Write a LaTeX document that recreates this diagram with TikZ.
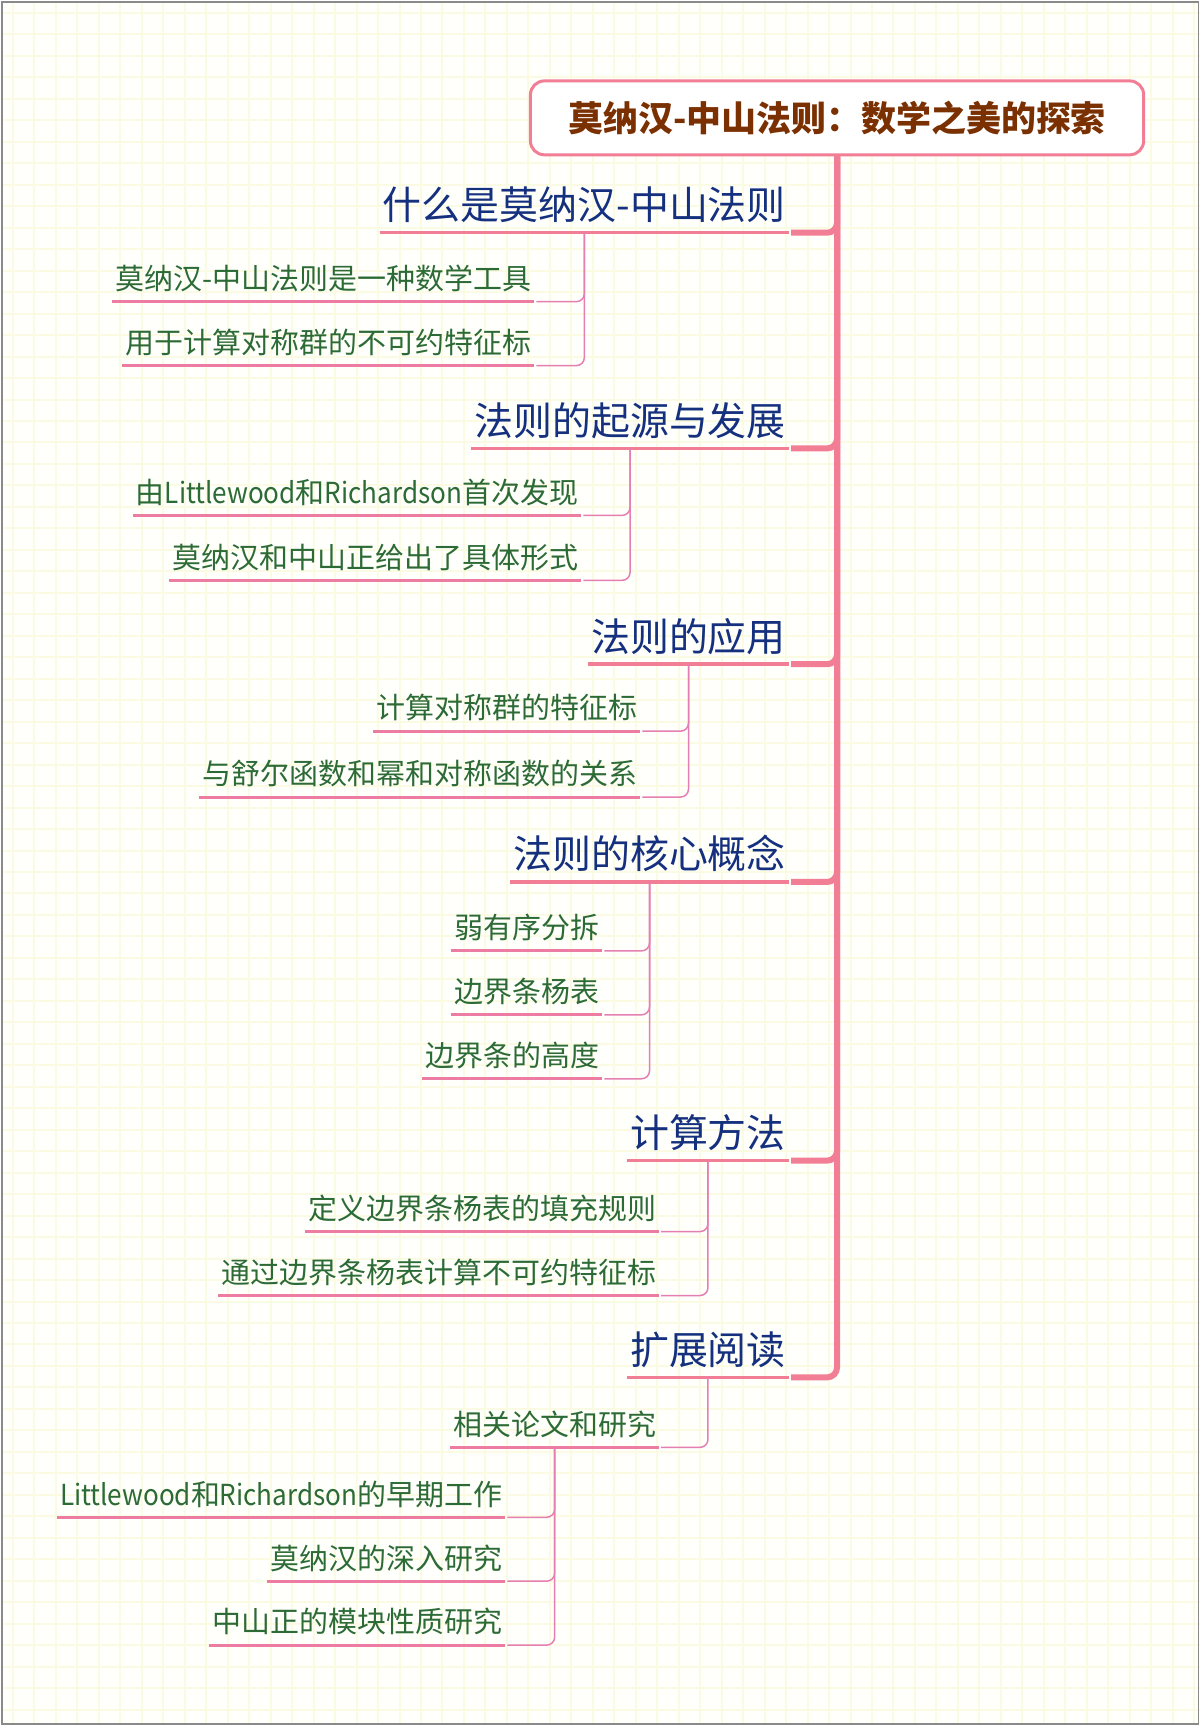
\documentclass[tikz,border=0pt]{standalone}
\usepackage{fontspec}
\setmainfont{Noto Sans CJK SC}
\newfontfamily\latinfont{Noto Sans CJK SC}[FakeStretch=0.9]
\newcommand{\latw}[1]{{\latinfont #1}}
\usetikzlibrary{calc}

\definecolor{paper}{HTML}{FFFFFC}
\definecolor{gridyellow}{HTML}{FBFBE3}
\definecolor{framegray}{HTML}{8A8A8A}
\definecolor{boughpink}{HTML}{F27E96}
\definecolor{linepink}{HTML}{EC7CA2}
\definecolor{twigpink}{HTML}{E57FB2}
\definecolor{titlebrown}{HTML}{7A3000}
\definecolor{branchblue}{HTML}{15307E}
\definecolor{leafgreen}{HTML}{2D6B36}

\begin{document}
\begin{tikzpicture}[
  x=1pt, y=-1pt,
  topic/.style={draw=boughpink, line width=3pt, rounded corners=14pt, fill=white,
    minimum width=614pt, minimum height=74pt, text=titlebrown,
    font=\fontsize{35}{38}\selectfont\bfseries},
  branch/.style={anchor=south east, inner xsep=3pt, inner ysep=0pt, text depth=13pt,
    text=branchblue, font=\fontsize{39}{42}\selectfont},
  leaf/.style={anchor=south east, inner xsep=3pt, inner ysep=0pt, text depth=12pt,
    text=leafgreen, font=\fontsize{29}{32}\selectfont},
  bough/.style={draw=boughpink, line width=6pt, rounded corners=10pt},
  bline/.style={draw=boughpink, line width=3.5pt},
  lline/.style={draw=linepink, line width=3pt},
  twig/.style={draw=twigpink, line width=1.5pt, rounded corners=8pt}
]
% paper and grid
\fill[paper] (0,0) rectangle (1200,1726);
\foreach \gx in {0,...,55}
  \draw[gridyellow, line width=2pt] ({12+21.5*\gx},0) -- ({12+21.5*\gx},1726);
\foreach \gy in {0,...,79}
  \draw[gridyellow, line width=2pt] (0,{12+21.5*\gy}) -- (1200,{12+21.5*\gy});
\draw[framegray, line width=1.5pt] (1,1) rectangle (1199,1725);
\useasboundingbox (0,0) rectangle (1200,1726);

% central topic
\node[topic] (title) at (837,117) {莫纳汉-中山法则：数学之美的探索};

% main branches
\node[branch] (b1) at (789,232) {什么是莫纳汉-中山法则};
\node[branch] (b2) at (789,448) {法则的起源与发展};
\node[branch] (b3) at (789,664) {法则的应用};
\node[branch] (b4) at (789,882) {法则的核心概念};
\node[branch] (b5) at (789,1161) {计算方法};
\node[branch] (b6) at (789,1378) {扩展阅读};

% leaves
\node[leaf] (s11) at (534,301) {莫纳汉-中山法则是一种数学工具};
\node[leaf] (s12) at (534,365) {用于计算对称群的不可约特征标};
\node[leaf] (s21) at (581,515) {由\latw{Littlewood}和\latw{Richardson}首次发现};
\node[leaf] (s22) at (581,580) {莫纳汉和中山正给出了具体形式};
\node[leaf] (s31) at (640,731) {计算对称群的特征标};
\node[leaf] (s32) at (640,797) {与舒尔函数和幂和对称函数的关系};
\node[leaf] (s41) at (602,951) {弱有序分拆};
\node[leaf] (s42) at (602,1015) {边界条杨表};
\node[leaf] (s43) at (602,1079) {边界条的高度};
\node[leaf] (s51) at (659,1232) {定义边界条杨表的填充规则};
\node[leaf] (s52) at (659,1296) {通过边界条杨表计算不可约特征标};
\node[leaf] (s61) at (659,1448) {相关论文和研究};
\node[leaf] (t1) at (505,1518) {\latw{Littlewood}和\latw{Richardson}的早期工作};
\node[leaf] (t2) at (505,1582) {莫纳汉的深入研究};
\node[leaf] (t3) at (505,1646) {中山正的模块性质研究};

% underlines
\foreach \n in {b1,b2,b3,b4,b5,b6}
  \draw[bline] (\n.south west) -- (\n.south east);
\foreach \n in {s11,s12,s21,s22,s31,s32,s41,s42,s43,s51,s52,s61,t1,t2,t3}
  \draw[lline] (\n.south west) -- (\n.south east);

% trunk to branches
\foreach \n in {b1,b2,b3,b4,b5,b6}
  \draw[bough] (title.south) |- ([xshift=2pt]\n.south east);

% branches to leaves
\foreach \p/\c in {b1/s11,b1/s12,b2/s21,b2/s22,b3/s31,b3/s32,b4/s41,b4/s42,b4/s43,
                   b5/s51,b5/s52,b6/s61,s61/t1,s61/t2,s61/t3}
  \draw[twig] (\p.south) |- ([xshift=2pt]\c.south east);

\end{tikzpicture}
\end{document}
